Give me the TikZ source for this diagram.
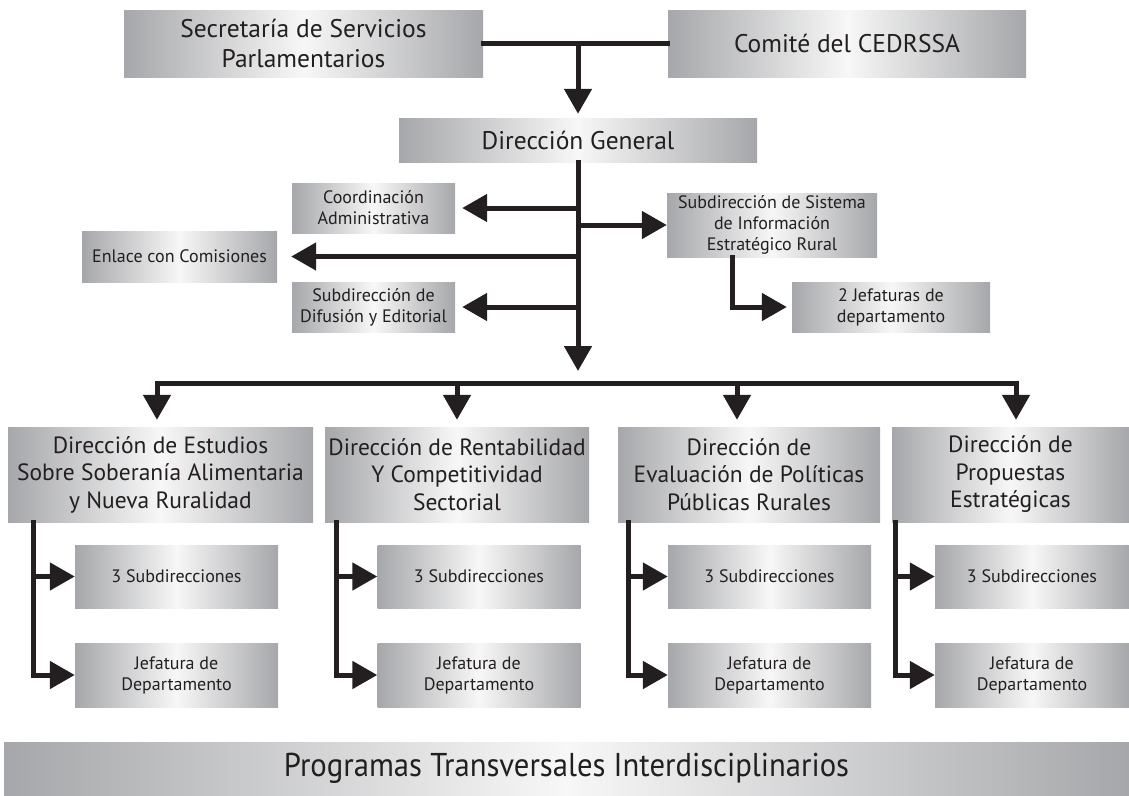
\documentclass[tikz,border=0pt]{standalone}
\usepackage{fontspec}
\setmainfont{PT Sans}
\newfontfamily\condfont[FakeStretch=0.93]{PT Sans}
\usetikzlibrary{arrows.meta}
\definecolor{boxedge}{RGB}{166,167,170}
\definecolor{boxmid}{RGB}{247,247,247}
\definecolor{ink}{RGB}{35,31,32}
\tikzset{
 box/.style={rectangle, inner sep=0pt, align=center, left color=boxedge, right color=boxedge, middle color=boxmid, draw=none, text=ink},
 top/.style={font=\fontsize{25.5}{30}\selectfont},
 big/.style={font=\fontsize{23.5}{27.5}\selectfont},
 small/.style={font=\fontsize{18}{21}\selectfont},
 conn/.style={line width=5pt, draw=ink, line cap=rect, line join=miter},
 arr/.style={conn, -{Triangle[width=27pt,length=25pt]}},
}
\begin{document}
\begin{tikzpicture}[x=1pt,y=-1pt]
\useasboundingbox (0,0) rectangle (1129,795);
% top level
\node[box,top,minimum width=359pt,minimum height=67pt] (sec) at (303.5,43.5) {Secretaría de Servicios\\Parlamentarios};
\node[box,top,minimum width=358pt,minimum height=67pt] (com) at (847,43.5) {Comité del CEDRSSA};
\node[box,top,minimum width=358pt,minimum height=44pt] (dg) at (578,140) {Dirección General};
% staff units
\node[box,small,minimum width=163pt,minimum height=50pt] (coord) at (373.5,208) {Coordinación\\Administrativa};
\node[box,small,minimum width=195pt,minimum height=51pt] (enl) at (179.5,256.5) {Enlace con Comisiones};
\node[box,small,minimum width=163pt,minimum height=50pt] (dif) at (373.5,307) {Subdirección de\\Difusión y Editorial};
\node[box,small,minimum width=210pt,minimum height=64pt] (sis) at (772,225) {Subdirección de Sistema\\de Información\\Estratégico Rural};
\node[box,small,minimum width=198pt,minimum height=50pt] (jef) at (891,307) {2 Jefaturas de\\departamento};
% directions
\node[box,big,minimum width=305pt,minimum height=95pt] (d1) at (160.5,474.5) {Dirección de Estudios\\Sobre Soberanía Alimentaria\\y Nueva Ruralidad};
\node[box,big,minimum width=264pt,minimum height=95pt] (d2) at (457,474.5) {Dirección de Rentabilidad\\Y Competitividad\\Sectorial};
\node[box,big,minimum width=262pt,minimum height=95pt] (d3) at (749,474.5) {Dirección de\\Evaluación de Políticas\\Públicas Rurales};
\node[box,big,minimum width=237pt,minimum height=95pt] (d4) at (1010.5,474.5) {Dirección de\\Propuestas\\Estratégicas};
% sub boxes
\node[box,small,minimum width=203pt,minimum height=63pt] (s1) at (176.5,576.5) {3 Subdirecciones};
\node[box,small,minimum width=203pt,minimum height=64pt] (j1) at (176.5,675) {Jefatura de\\Departamento};
\node[box,small,minimum width=203pt,minimum height=63pt] (s2) at (479,576.5) {3 Subdirecciones};
\node[box,small,minimum width=203pt,minimum height=64pt] (j2) at (479,675) {Jefatura de\\Departamento};
\node[box,small,minimum width=203pt,minimum height=63pt] (s3) at (769.5,576.5) {3 Subdirecciones};
\node[box,small,minimum width=203pt,minimum height=64pt] (j3) at (769.5,675) {Jefatura de\\Departamento};
\node[box,small,minimum width=194pt,minimum height=63pt] (s4) at (1032,576.5) {3 Subdirecciones};
\node[box,small,minimum width=194pt,minimum height=64pt] (j4) at (1032,675) {Jefatura de\\Departamento};
% banner
\node[box,minimum width=1125pt,minimum height=53pt] (prog) at (566.5,768.5) {\condfont\fontsize{33}{36}\selectfont Programas Transversales Interdisciplinarios};
% connectors top
\draw[conn] (sec.east) -- (com.west);
\draw[arr, shorten >=4pt] (sec.east -| dg.north) -- (dg.north);
% trunk
\coordinate (tk) at (578,371);
\draw[arr] (dg.south) -- (tk);
\draw[arr, shorten >=7pt] (dg.south |- coord.east) -- (coord.east);
\draw[arr, shorten >=14pt] (dg.south |- enl.east) -- (enl.east);
\draw[arr, shorten >=7pt] (dg.south |- dif.east) -- (dif.east);
\draw[arr] (dg.south |- sis.west) -- (sis.west);
\coordinate (sv) at (732,0);
\draw[arr, shorten >=5pt] (sv |- sis.south) -- (sv |- jef.west) -- (jef.west);
% bus
\coordinate (b1) at (157,383);
\coordinate (b2) at (457,383);
\coordinate (b3) at (737,383);
\coordinate (b4) at (1016,383);
\draw[conn] (b1) -- (b4);
\draw[arr, shorten >=7pt] (b1) -- (b1 |- d1.north);
\draw[arr, shorten >=7pt] (b2) -- (b2 |- d2.north);
\draw[arr, shorten >=7pt] (b3) -- (b3 |- d3.north);
\draw[arr, shorten >=7pt] (b4) -- (b4 |- d4.north);
% column connectors
\coordinate (v1) at (33,0);
\coordinate (v2) at (336,0);
\coordinate (v3) at (628,0);
\coordinate (v4) at (895,0);
\foreach \i in {1,2,3,4}{
  \draw[arr] (v\i |- d\i.south) -- (v\i |- j\i.west) -- (j\i.west);
  \draw[arr] (v\i |- s\i.west) -- (s\i.west);
}
\end{tikzpicture}
\end{document}
